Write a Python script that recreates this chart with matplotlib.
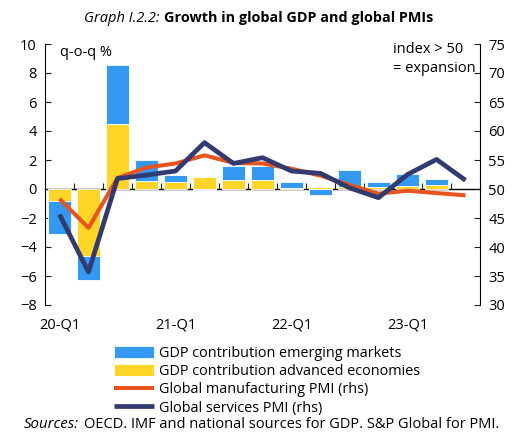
import matplotlib
matplotlib.use("Agg")
import matplotlib.pyplot as plt
import numpy as np

plt.rcParams['font.family'] = ['Open Sans', 'DejaVu Sans']

# quarters 20-Q1 .. 23-Q3
quarters = ['20-Q1', '20-Q2', '20-Q3', '20-Q4', '21-Q1', '21-Q2', '21-Q3', '21-Q4',
            '22-Q1', '22-Q2', '22-Q3', '22-Q4', '23-Q1', '23-Q2', '23-Q3']
tick_labels = ['20-Q1', '21-Q1', '22-Q1', '23-Q1']

# GDP contributions (q-o-q %), available up to 23-Q2
advanced = [-0.85, -4.6, 4.45, 0.55, 0.47, 0.8, 0.6, 0.65, 0.1, 0.15, 0.15, 0.15, 0.2, 0.28]
emerging = [-2.25, -1.7, 4.1, 1.45, 0.53, -0.1, 1.0, 0.95, 0.35, -0.4, 1.15, 0.35, 0.85, 0.38]

# PMIs (rhs)
manufacturing = [48.3, 43.3, 51.9, 53.7, 54.4, 55.8, 54.5, 54.4, 53.5, 52.3, 50.7, 49.2, 49.7, 49.3, 48.9]
services = [45.6, 35.7, 51.8, 52.4, 53.1, 58.0, 54.4, 55.4, 53.1, 52.7, 50.2, 48.5, 52.5, 55.1, 51.5]

c_blue = '#3399f3'
c_yellow = '#ffd626'
c_orange = '#e8531e'
c_navy = '#323a72'

fig = plt.figure(figsize=(5.16, 4.34), dpi=100)
ax = fig.add_axes([45 / 516, 1 - 305 / 434, 435 / 516, 261 / 434])
ax2 = ax.twinx()

x = np.arange(len(quarters))
xb = x[:len(advanced)]
adv = np.array(advanced)
em = np.array(emerging)
# stack emerging on top of advanced (same sign) or from zero otherwise
em_base = np.where(np.sign(em) == np.sign(adv), adv, 0)

ax.bar(xb, adv, width=0.8, color=c_yellow, edgecolor='white', linewidth=0.6,
       label='GDP contribution advanced economies', zorder=2)
ax.bar(xb, em, bottom=em_base, width=0.8, color=c_blue, edgecolor='white', linewidth=0.6,
       label='GDP contribution emerging markets', zorder=2)

ax2.plot(x, manufacturing, color=c_orange, lw=2.9, label='Global manufacturing PMI (rhs)',
         solid_capstyle='butt', zorder=3)
ax2.plot(x, services, color=c_navy, lw=3.4, label='Global services PMI (rhs)',
         solid_capstyle='butt', zorder=4)

ax.set_xlim(-0.5, len(quarters) - 0.5)
ax.set_ylim(-8, 10)
ax2.set_ylim(30, 75)
ax.set_yticks(range(-8, 11, 2))
ax2.set_yticks(range(30, 76, 5))

for a in (ax, ax2):
    a.spines['top'].set_visible(False)
    a.spines['bottom'].set_visible(False)
ax.spines['right'].set_visible(False)
ax2.spines['left'].set_visible(False)

ax.tick_params(axis='y', direction='in', length=4, labelsize=10.5, pad=6, color='#222222')
ax2.tick_params(axis='y', direction='in', length=4, labelsize=10.5, pad=6, color='#222222')

ax.set_xticks([quarters.index(t) for t in tick_labels])
ax.set_xticklabels(tick_labels)
ax.tick_params(axis='x', length=0, labelsize=10.5, pad=9)

# zero line with category separators
sec = ax.secondary_xaxis(8 / 18)
sec.set_xticks(np.arange(0.5, len(advanced), 1))
sec.tick_params(axis='x', direction='in', length=4, labelbottom=False, color='#222222')
sec.spines['bottom'].set_linewidth(1.0)

fig.text(60 / 516, 1 - 53 / 434, 'q-o-q %', fontsize=10.5, va='center')
fig.text(393 / 516, 1 - 42 / 434, 'index > 50\n= expansion', fontsize=10.5,
         ha='left', va='top', linespacing=1.35)

ax.set_zorder(1)
ax.patch.set_visible(False)
ax2.set_zorder(2)

fig.text(160 / 516, 1 - 18 / 434, 'Graph I.2.2:', style='italic', fontsize=10.5,
         ha='right', va='center')
fig.text(164 / 516, 1 - 18 / 434, 'Growth in global GDP and global PMIs', weight='bold',
         fontsize=10.4, ha='left', va='center')

h1, l1 = ax.get_legend_handles_labels()
h2, l2 = ax2.get_legend_handles_labels()
handles = [h1[1], h1[0]] + h2
labels = [l1[1], l1[0]] + l2
fig.legend(handles, labels, loc='upper left', bbox_to_anchor=(114 / 516, 1 - 346 / 434),
           frameon=False, fontsize=10.4, handlelength=2.8, handleheight=0.85,
           handletextpad=0.3, labelspacing=0.22, borderpad=0, borderaxespad=0)

fig.text(24 / 516, 1 - 425 / 434, 'Sources:', style='italic', fontsize=10.8, ha='left', va='center')
fig.text(84 / 516, 1 - 425 / 434, 'OECD. IMF and national sources for GDP. S&P Global for PMI.',
         fontsize=10.5, ha='left', va='center')

fig.savefig('out.png', dpi=100)
